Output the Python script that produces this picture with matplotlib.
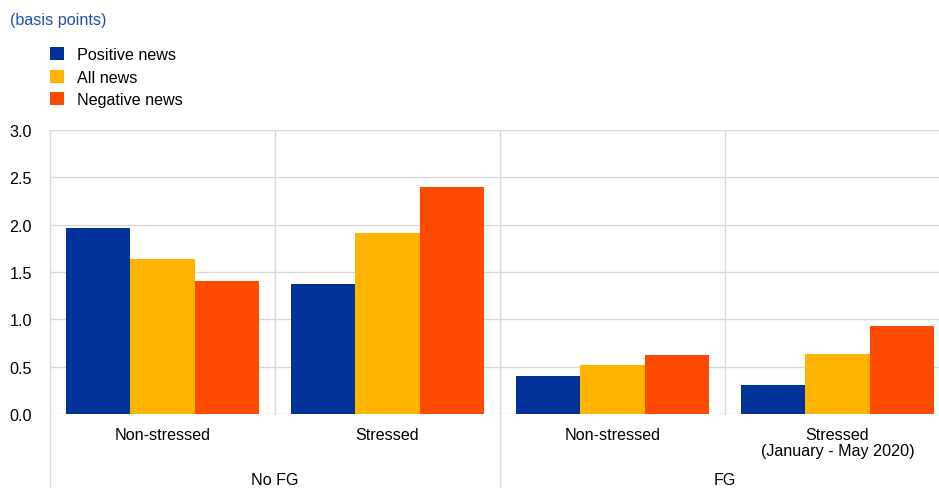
import matplotlib.pyplot as plt
import numpy as np

plt.rcParams["font.family"] = ["Liberation Sans", "DejaVu Sans"]

categories = ["Non-stressed", "Stressed", "Non-stressed", "Stressed\n(January - May 2020)"]
groups = ["No FG", "FG"]
series = ["Positive news", "All news", "Negative news"]
positive = [1.96, 1.37, 0.40, 0.31]
all_news = [1.64, 1.91, 0.52, 0.63]
negative = [1.40, 2.40, 0.62, 0.93]
yticks = [0.0, 0.5, 1.0, 1.5, 2.0, 2.5, 3.0]

colors = ["#003299", "#FFB400", "#FF4B00"]
grid_c = "#d9d9d9"
fs = 11.6

fig = plt.figure(figsize=(9.39, 4.89), dpi=100)
ax = fig.add_axes([50 / 939, 1 - 415 / 489, 900 / 939, (415 - 131) / 489])

x = np.arange(len(categories))
w = 0.287
for i, (vals, name) in enumerate(zip([positive, all_news, negative], series)):
    ax.bar(x + (i - 1) * w, vals, width=w, color=colors[i], label=name, zorder=3)

ax.set_xlim(-0.5, 3.5)
ax.set_ylim(0, 3.0)
ax.set_yticks(yticks)
ax.set_yticklabels([f"{v:.1f}" for v in yticks], fontsize=fs)
ax.tick_params(axis="y", length=0, pad=13)
ax.tick_params(axis="x", length=0)
ax.set_xticks([])
for s in ax.spines.values():
    s.set_visible(False)
for v in yticks:
    ax.axhline(v, color=grid_c, lw=1, zorder=1)

# separators between categories
trans = ax.get_xaxis_transform()
for xv in [0.5, 2.5]:
    ax.plot([xv, xv], [0, 1], color=grid_c, lw=1, transform=trans, clip_on=False, zorder=1)
for xv in [-0.5, 1.5]:
    ax.plot([xv, xv], [-74 / 284, 1], color=grid_c, lw=1, transform=trans, clip_on=False, zorder=1)

# category labels
for xi, lab in zip(x, categories):
    ax.text(xi, -13 / 284, lab, transform=trans, ha="center", va="top", fontsize=fs,
            linespacing=1.1)
for gi, g in enumerate(groups):
    ax.text(0.5 + 2 * gi, -58 / 284, g, transform=trans, ha="center", va="top", fontsize=fs)

fig.text(10 / 939, 1 - 20 / 489, "(basis points)", color="#1f4fb4", fontsize=fs, va="center")
fig.legend(loc="upper left", bbox_to_anchor=(44 / 939, 1 - 42 / 489), frameon=False,
           fontsize=fs, handlelength=0.85, handleheight=0.85, handletextpad=0.8,
           labelspacing=0.45, borderaxespad=0)

fig.savefig("out.png", dpi=100)
